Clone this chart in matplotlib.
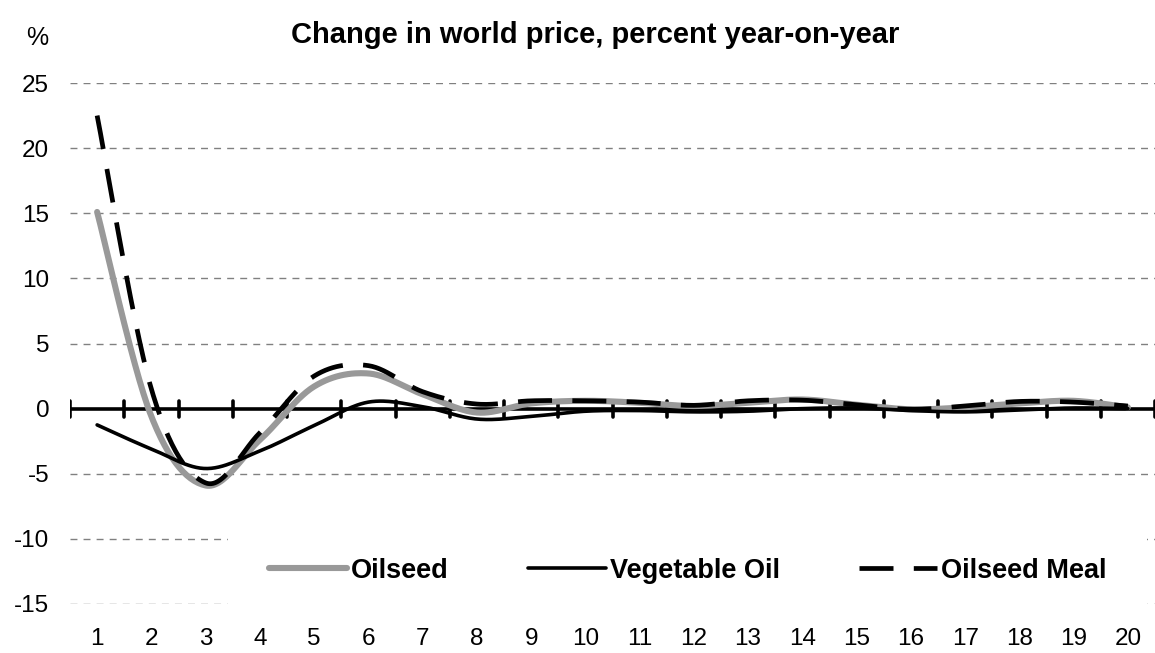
import numpy as np
import matplotlib
matplotlib.use("Agg")
import matplotlib.pyplot as plt

plt.rcParams['font.family'] = ['Liberation Sans', 'DejaVu Sans']

years = list(range(1, 21))
oilseed = [15.1, -0.6, -5.9, -2.4, 1.7, 2.7, 1.1, -0.3, 0.4, 0.6, 0.45, 0.2, 0.45, 0.7, 0.3, -0.05, 0.1, 0.4, 0.6, 0.1]
veg_oil = [-1.25, -3.1, -4.6, -3.25, -1.3, 0.5, 0.15, -0.8, -0.6, -0.2, -0.15, -0.25, -0.2, 0.0, 0.05, -0.15, -0.25, -0.1, 0.05, 0.0]
meal = [22.5, 1.5, -5.7, -1.85, 2.5, 3.3, 1.3, 0.35, 0.6, 0.6, 0.5, 0.25, 0.6, 0.65, 0.3, -0.05, 0.2, 0.55, 0.5, 0.2]
yticks = [-15, -10, -5, 0, 5, 10, 15, 20, 25]
title = "Change in world price, percent year-on-year"
names = ["Oilseed", "Vegetable Oil", "Oilseed Meal"]

W, H = 1155, 653
fig = plt.figure(figsize=(W / 100, H / 100), dpi=100)
ax = fig.add_axes([70 / W, 1 - 604 / H, 1 - 70 / W, (604 - 83) / H])
ax.set_xlim(0.5, 20.5)
ax.set_ylim(-15, 25)


def smooth(x, y, n=30):
    # Excel-style smoothed line (Bezier through points), computed in screen space
    x = np.asarray(x, float); y = np.asarray(y, float)
    sx, sy = 54.15, 13.03
    P = np.column_stack([x * sx, y * sy])
    Pe = np.vstack([P[0], P, P[-1]])
    out = []
    t = np.linspace(0, 1, n)[:, None]
    for i in range(len(P) - 1):
        p0, p1, p2, p3 = Pe[i], Pe[i + 1], Pe[i + 2], Pe[i + 3]
        b1 = p1 + (p2 - p0) / 6
        b2 = p2 - (p3 - p1) / 6
        seg = ((1 - t) ** 3) * p1 + 3 * ((1 - t) ** 2) * t * b1 + 3 * (1 - t) * t ** 2 * b2 + t ** 3 * p2
        out.append(seg if i == 0 else seg[1:])
    out = np.vstack(out)
    return out[:, 0] / sx, out[:, 1] / sy


# gridlines
for v in yticks:
    if v != 0:
        ax.axhline(v, color='#808080', lw=1.0, ls=(0, (5.0, 4.4)), zorder=1)

# zero axis with crossing tick marks
ax.axhline(0, color='black', lw=2.6, zorder=2, solid_capstyle='butt')
for b in np.arange(0.5, 21, 1.0):
    ax.plot([b, b], [-0.62, 0.62], color='black', lw=2.6, zorder=2, solid_capstyle='round')

xs, ys = smooth(years, oilseed)
l1, = ax.plot(xs, ys, color='#999999', lw=4.4, solid_capstyle='round', zorder=3, label=names[0])
xs, ys = smooth(years, veg_oil)
l2, = ax.plot(xs, ys, color='black', lw=2.6, solid_capstyle='round', zorder=4, label=names[1])
xs, ys = smooth(years, meal)
l3, = ax.plot(xs, ys, color='black', lw=3.4, ls=(0, (7.2, 4.3)), dash_capstyle='butt', zorder=5, label=names[2])

for s in ax.spines.values():
    s.set_visible(False)
ax.set_xticks([])
ax.set_yticks(yticks)
ax.set_yticklabels([str(v) for v in yticks])
ax.tick_params(axis='y', length=0, pad=15, labelsize=17.5)

sec = ax.secondary_xaxis(0.0)
sec.set_xticks(years)
sec.set_xticklabels([str(v) for v in years])
sec.tick_params(length=0, pad=17, labelsize=17.5)
sec.spines['bottom'].set_visible(False)

leg = ax.legend(handles=[l1, l2, l3], ncol=3, loc='upper left',
                bbox_to_anchor=(228 / W, 1 - 517 / H), bbox_transform=fig.transFigure,
                frameon=True, fancybox=False, framealpha=1, facecolor='white', edgecolor='none',
                prop={'weight': 'bold', 'size': 19.5}, handlelength=2.9, handletextpad=0.15,
                columnspacing=2.9, borderpad=1.5, borderaxespad=0)
leg.set_zorder(10)

fig.text(595 / W, 1 - 35 / H, title, ha='center', va='center', fontsize=21, fontweight='bold')
fig.text(37 / W, 1 - 38 / H, "%", ha='center', va='center', fontsize=18)

fig.savefig('out.png', dpi=100)
